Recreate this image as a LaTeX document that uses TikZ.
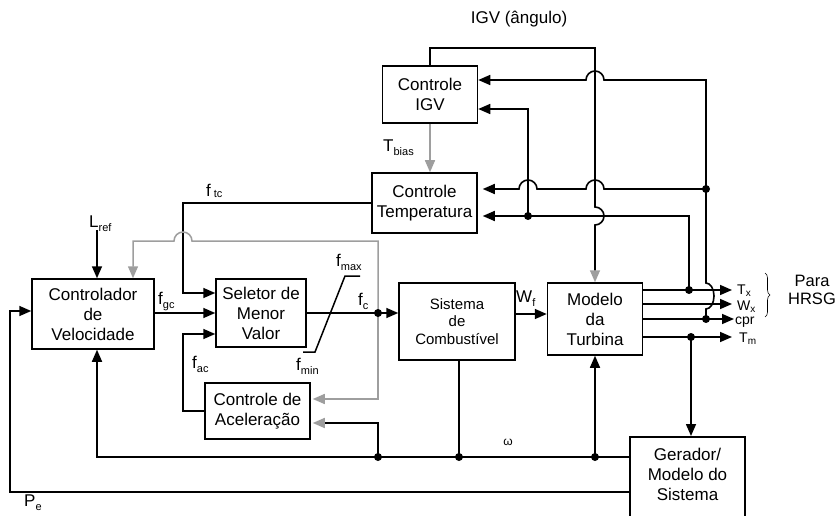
\documentclass[tikz,border=0pt]{standalone}
\usepackage{fontspec}
\setmainfont{Liberation Sans}
\usetikzlibrary{arrows.meta,decorations.pathreplacing}
\definecolor{gcol}{gray}{0.62}
\newcommand\lsub[1]{\raisebox{-4pt}{\fontsize{11}{11}\selectfont #1}}
\newcommand\osub[1]{\raisebox{-2pt}{\fontsize{10}{10}\selectfont #1}}
\newcommand\lsubs[1]{\raisebox{-1.5pt}{\fontsize{11}{11}\selectfont #1}}
\begin{document}
\begin{tikzpicture}[x=1pt,y=-1pt,
  blk/.style={draw,line width=1.5pt,align=center,inner sep=0pt,font=\fontsize{17}{20}\selectfont},
  wire/.style={line width=1.6pt},
  gwire/.style={line width=1.5pt,draw=gcol},
  arr/.style={-{Triangle[length=12pt,width=10pt]}},
  garr/.style={-{Triangle[length=12pt,width=10pt,color=gcol]}},
  dot/.style={circle,fill,inner sep=0pt,minimum size=8pt},
  lbl/.style={font=\fontsize{17}{20}\selectfont,inner sep=0pt},
  olbl/.style={font=\fontsize{14}{16}\selectfont,inner sep=0pt,anchor=base west}
]
\useasboundingbox (0,0) rectangle (838,516);
\clip (0,0) rectangle (838,516);

% blocks
\node[blk,minimum width=122pt,minimum height=70pt] (vel) at (93,314) {Controlador\\de\\Velocidade};
\node[blk,minimum width=90pt,minimum height=68pt] (sel) at (261,313) {Seletor de\\Menor\\Valor};
\node[blk,minimum width=105pt,minimum height=56pt] (acel) at (257.5,411) {Controle de\\Aceleração};
\node[blk,minimum width=116pt,minimum height=77pt,font=\fontsize{15}{17.5}\selectfont] (comb) at (457,321.5) {Sistema\\de\\Combustível};
\node[blk,minimum width=95pt,minimum height=72pt] (turb) at (595,319) {Modelo\\da\\Turbina};
\node[blk,minimum width=95pt,minimum height=57pt] (igv) at (430,94.5) {Controle\\IGV};
\node[blk,minimum width=105pt,minimum height=60pt] (temp) at (424.5,203) {Controle\\Temperatura};
\node[blk,minimum width=115pt,minimum height=95pt,anchor=north] (ger) at (687.5,436) {};
\node[lbl,align=center] (gertxt) at (687.5,474) {Gerador/\\Modelo do\\Sistema};

% junctions and free ends
\coordinate (jcpr) at (706,319);
\coordinate (j189) at (706,189);
\coordinate (jtx) at (689,290);
\coordinate (j528) at (528,216);
\coordinate (jtm) at (691,337);
\coordinate (jfc) at (378,313);
\coordinate (w1) at (378,457);
\coordinate (w2) at (459,457);
\coordinate (w3) at (595,457);
\coordinate (lref) at (97,230);
\coordinate (oTx) at (732,290);
\coordinate (oWx) at (732,304);
\coordinate (ocpr) at (734,319);
\coordinate (oTm) at (732,337);

% IGV angle to turbine
\draw[wire,garr] (igv.north) -- (430,48) -- (595,48) -- (595,207)
  arc[start angle=-90,end angle=90,radius=9] -- (turb.north);

% cpr feedback
\draw[wire,arr] (jcpr) -- (706,309)
  arc[start angle=90,end angle=-90,x radius=8,y radius=13] -- (706,80)
  -- (604,80) arc[start angle=0,end angle=-180,radius=9] -- (igv.east |- 0,80);
\draw[wire,arr,shorten >=5pt] (j189) -- (604,189) arc[start angle=0,end angle=-180,radius=9]
  -- (537,189) arc[start angle=0,end angle=-180,radius=9] -- (temp.east |- 0,189);

% Tx feedback
\draw[wire,arr,shorten >=5pt] (jtx) -- (689,216) -- (temp.east |- 0,216);
\draw[wire,arr] (j528) -- (528,109) -- (igv.east |- 0,109);

% outputs
\draw[wire,arr] (turb.east |- 0,290) -- (oTx);
\draw[wire,arr] (turb.east |- 0,304) -- (oWx);
\draw[wire,arr] (turb.east |- 0,319) -- (ocpr);
\draw[wire,arr] (turb.east |- 0,337) -- (oTm);
\draw[wire,arr] (jtm) -- (jtm |- ger.north);

% omega
\draw[wire,arr] (ger.west |- 0,457) -- (97,457) -- ([xshift=4pt]vel.south);
\draw[wire,arr] (w3) -- (turb.south);
\draw[wire] (w2) -- (w2 |- comb.south);
\draw[wire,garr,shorten >=2pt] (w1) -- (378,423) -- (acel.east |- 0,423);

% Pe
\draw[wire,arr] (ger.west |- 0,492) -- (10,492) -- (10,311) -- (vel.west |- 0,311);

% selector inputs
\draw[wire,arr] (vel.east |- 0,313) -- (sel.west |- 0,313);
\draw[wire,arr] (temp.west |- 0,203) -- (183,203) -- (183,293) -- (sel.west |- 0,293);
\draw[wire,arr] (acel.west |- 0,411) -- (183,411) -- (183,334) -- (sel.west |- 0,334);

% fc
\draw[wire,arr] (sel.east |- 0,313) -- (comb.west |- 0,313);
\draw[gwire,garr] (jfc) -- (378,241) -- (192,241) arc[start angle=0,end angle=-180,radius=9]
  -- (133,241) -- (vel.north -| 133,0);
\draw[gwire,garr,shorten >=2pt] (jfc) -- (378,399) -- (acel.east |- 0,399);

% Wf
\draw[wire,arr] (comb.east |- 0,314) -- (turb.west |- 0,314);

% Tbias
\draw[gwire,garr] (igv.south) -- (igv.south |- temp.north);

% Lref
\draw[wire,arr] (lref) -- ([xshift=4pt]vel.north);

% saturation symbol
\draw[line width=1.5pt] (303,352) -- (315,352) -- (345,276) -- (360,276);

% dots
\foreach \p in {jcpr,j189,jtx,j528,jtm,w1,w2,w3}{\node[dot] at (\p) {};}
\node[circle,fill,inner sep=0pt,minimum width=6pt,minimum height=8pt] at (jfc) {};

% labels
\node[lbl] (tigv) at (519,19) {IGV (ângulo)};
\node[lbl,anchor=base west] (tbias) at (383,152) {T\lsub{bias}};
\node[lbl,anchor=base west] (tlref) at (89,227) {L\lsub{ref}};
\node[lbl,anchor=base west] (tftc) at (206,196) {f\,\lsubs{tc}};
\node[lbl,anchor=base west] (tfgc) at (158,304) {f\lsub{gc}};
\node[lbl,anchor=base west] (tfac) at (192,368) {f\lsub{ac}};
\node[lbl,anchor=base west] (tfmax) at (336,266) {f\lsub{max}};
\node[lbl,anchor=base west] (tfmin) at (296,370) {f\lsub{min}};
\node[lbl,anchor=base west] (tfc) at (358,305) {f\lsub{c}};
\node[lbl,anchor=base west] (twf) at (516,302) {W\lsub{f}};
\node[lbl,anchor=base west] (tpe) at (24,506) {P\lsub{e}};
\node[font=\fontsize{12}{12}\selectfont,inner sep=0pt] (tw) at (508,442) {ω};
\node[olbl] (ttx) at (737,294) {T\osub{x}};
\node[olbl] (twx) at (737,310) {W\osub{x}};
\node[olbl] (tcpr) at (735,324) {cpr};
\node[olbl] (ttm) at (739,342) {T\osub{m}};
\draw[line width=0.6pt,decorate,decoration={brace,amplitude=5pt}] (765,273) -- (765,317);
\node[lbl,align=center,font=\fontsize{16.5}{18}\selectfont] (thrsg) at (812,290) {Para\\HRSG};
\end{tikzpicture}
\end{document}
